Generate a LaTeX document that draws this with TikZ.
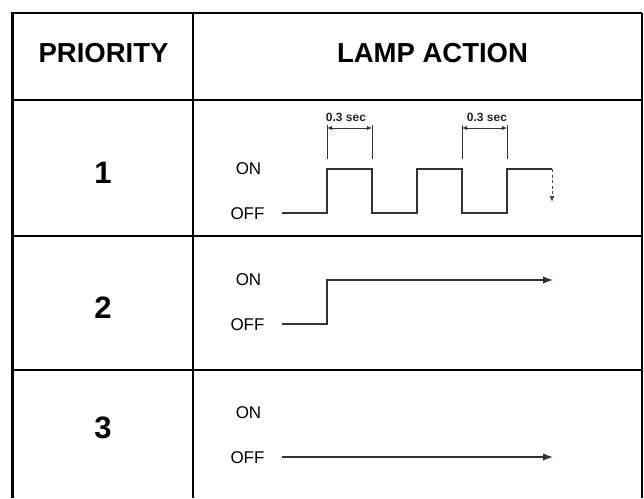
\documentclass[tikz,border=0pt]{standalone}
\usepackage{fontspec}
\setmainfont{Liberation Sans}
\usetikzlibrary{arrows.meta}
\tikzset{
  dimtip/.tip={Latex[length=5pt,width=4.5pt]},
  bigtip/.tip={Latex[length=10pt,width=7.5pt]},
  dashtip/.tip={Latex[length=6pt,width=5pt]}
}
\begin{document}
\begin{tikzpicture}[x=1pt,y=-1pt,
  head/.style={font=\fontsize{27.5}{30}\selectfont\bfseries, inner sep=0pt},
  prio/.style={font=\fontsize{31}{34}\selectfont\bfseries, inner sep=0pt},
  lvl/.style={font=\fontsize{17}{19}\selectfont, inner sep=0pt},
  dimtxt/.style={font=\fontsize{12}{14}\selectfont\bfseries, inner sep=0pt, text=black!85},
  wave/.style={line width=1.3pt, draw=black!80},
  dimline/.style={line width=0.9pt, draw=black!80},
  thick border/.style={line width=2.6pt},
  thin border/.style={line width=1.6pt}]
\useasboundingbox (0,0) rectangle (644,498);
\fill[white] (0,0) rectangle (644,498);
% table
\draw[thick border] (12.5,498) -- (12.5,13) -- (642,13);
\draw[thick border] (12.5,100) -- (642,100);
\draw[thin border] (642,13) -- (642,498);
\draw[thin border] (193,13) -- (193,498);
\draw[line width=2pt] (12.5,236) -- (642,236);
\draw[line width=2pt] (12.5,370) -- (642,370);
% headers
\node[head] (hp) at (103.5,53.5) {PRIORITY};
\node[head] (hl) at (432.5,53.5) {LAMP ACTION};
\node[prio] (p1) at (103,173) {1};
\node[prio] (p2) at (103,308) {2};
\node[prio] (p3) at (103,428) {3};
% row 1
\node[lvl] (on1) at (248.5,169) {ON};
\node[lvl] (off1) at (247.5,214) {OFF};
\coordinate (a0) at (282,213);
\coordinate (a1) at (327,213); \coordinate (a2) at (327,169);
\coordinate (a3) at (372,169); \coordinate (a4) at (372,213);
\coordinate (a5) at (417,213); \coordinate (a6) at (417,169);
\coordinate (a7) at (462,169); \coordinate (a8) at (462,213);
\coordinate (a9) at (507,213); \coordinate (a10) at (507,169);
\coordinate (a11) at (552,169); \coordinate (a12) at (552,202);
\draw[wave] (a0) -- (a1) -- (a2) -- (a3) -- (a4) -- (a5) -- (a6) -- (a7) -- (a8) -- (a9) -- (a10) -- (a11);
\draw[line width=0.9pt, draw=black!70, dash pattern=on 3pt off 2.5pt, -{dashtip}] (a11) -- (a12);
% dimensions
\coordinate (d1t) at (327,125); \coordinate (d1b) at (327,159);
\coordinate (d2t) at (372,125); \coordinate (d2b) at (372,159);
\coordinate (d3t) at (462,125); \coordinate (d3b) at (462,159);
\coordinate (d4t) at (507,125); \coordinate (d4b) at (507,159);
\draw[dimline] (d1t) -- (d1b); \draw[dimline] (d2t) -- (d2b);
\draw[dimline] (d3t) -- (d3b); \draw[dimline] (d4t) -- (d4b);
\coordinate (h1a) at (327,128); \coordinate (h1b) at (372,128);
\coordinate (h2a) at (462,128); \coordinate (h2b) at (507,128);
\draw[dimline, {dimtip}-{dimtip}] (h1a) -- (h1b);
\draw[dimline, {dimtip}-{dimtip}] (h2a) -- (h2b);
\node[dimtxt] (t1) at (346,117) {0.3 sec};
\node[dimtxt] (t2) at (487,117) {0.3 sec};
% row 2
\node[lvl] (on2) at (248.5,280) {ON};
\node[lvl] (off2) at (247.5,325) {OFF};
\coordinate (b0) at (282,324); \coordinate (b1) at (327,324);
\coordinate (b2) at (327,280); \coordinate (b3) at (553,280);
\draw[wave, -{bigtip}] (b0) -- (b1) -- (b2) -- (b3);
% row 3
\node[lvl] (on3) at (248.5,413) {ON};
\node[lvl] (off3) at (247.5,458) {OFF};
\coordinate (c0) at (282,457); \coordinate (c1) at (553,457);
\draw[wave, -{bigtip}] (c0) -- (c1);
\end{tikzpicture}
\end{document}
